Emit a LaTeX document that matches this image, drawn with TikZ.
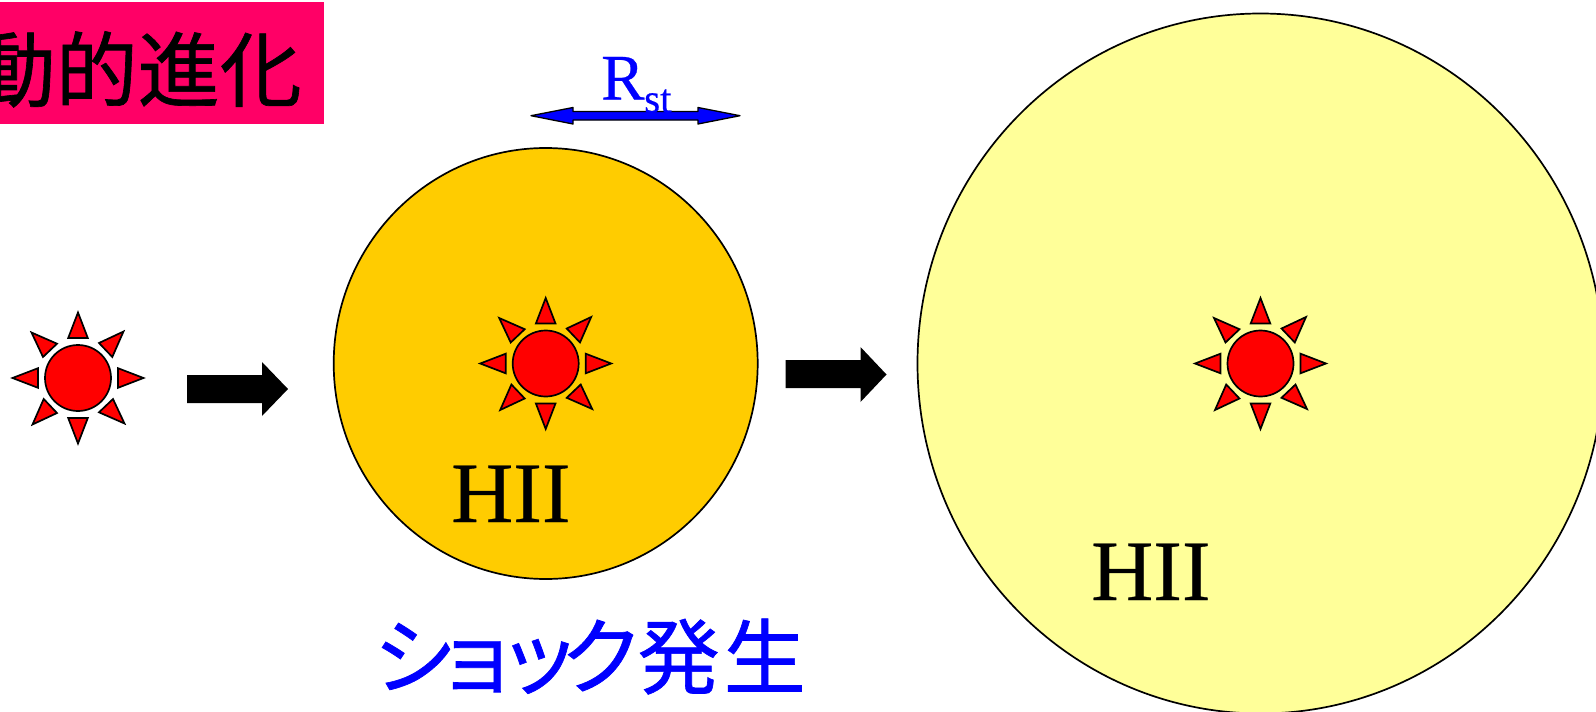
\documentclass[tikz,border=0pt]{standalone}
\usepackage{fontspec}
\setmainfont{Liberation Serif}
\newfontfamily\heavyserif[FakeBold=0.4]{Liberation Serif}
\newfontfamily\cjk[FakeBold=0.8]{Noto Sans CJK JP}
\definecolor{pinkbg}{HTML}{FF0066}
\definecolor{orangefill}{HTML}{FFCC00}
\definecolor{yellowfill}{HTML}{FFFF99}
\definecolor{sunred}{HTML}{FF0000}
\definecolor{textblue}{HTML}{0000FF}
\tikzset{
  outline/.style={draw=black,line width=1.7pt},
  ray/.style={outline,fill=sunred,line join=miter},
  blockarrow/.style={fill=black,draw=none},
  bigtext/.style={inner sep=0pt,font=\heavyserif\fontsize{86}{86}\selectfont,text=black,anchor=base west},
  sunpic/.pic={
    \filldraw[ray] (0,0) circle (33);
    \foreach \a in {0,90,180,270}{
      \filldraw[ray,rotate=\a] (0,-65.5) -- (9.8,-40) -- (-9.8,-40) -- cycle;
      \filldraw[ray,rotate=\a] (45.5,-46.5) -- (21,-35) -- (34.3,-21) -- cycle;
    }
  }
}
\begin{document}
\begin{tikzpicture}[x=1pt,y=-1pt]
\useasboundingbox (0,0) rectangle (1596,712);
\clip (0,0) rectangle (1596,712);
\fill[white] (0,0) rectangle (1596,712);
% title
\fill[pinkbg] (-2,2) rectangle (324,124);
\node[inner sep=0pt,anchor=base east,font=\cjk\fontsize{82}{82}\selectfont] (title) at (302,100.5) {動的進化};
% circles
\filldraw[outline,fill=orangefill] (545.7,363.5) ellipse [x radius=212,y radius=215.5];
\filldraw[outline,fill=yellowfill] (1260.5,363.5) ellipse [x radius=343,y radius=350];
% suns
\pic at (78,378) {sunpic};
\pic at (545.7,363.5) {sunpic};
\pic at (1260.5,363.5) {sunpic};
% block arrows
\fill[blockarrow] (187,375) -- (262,375) -- (262,362) -- (288,389) -- (262,416) -- (262,403) -- (187,403) -- cycle;
\fill[blockarrow] (785.5,360) -- (860.5,360) -- (860.5,347) -- (886.5,374.5) -- (860.5,402) -- (860.5,388) -- (785.5,388) -- cycle;
% Rst arrow
\filldraw[draw=black,line width=1.3pt,fill=textblue,line join=round] (531,115.7) -- (573,107.5) -- (573,111.5) -- (698,111.5) -- (698,107.5) -- (740,115.7) -- (698,124) -- (698,120) -- (573,120) -- (573,124) -- cycle;
\node[inner sep=0pt,anchor=base west,text=textblue,font=\heavyserif\fontsize{65}{65}\selectfont] (rst) at (601,99.5) {R};
\node[inner sep=0pt,anchor=base west,text=textblue,font=\heavyserif\fontsize{41}{41}\selectfont] (rstsub) at (644,112.5) {st};
% labels
\node[bigtext] (hiione) at (451,522) {HII};
\node[bigtext] (hiitwo) at (1091,600) {HII};
\node[inner sep=0pt,text=textblue,anchor=base west] (shock) at (373,687.5) {\cjk\fontsize{84}{84}\selectfont\addfontfeature{LetterSpace=-26}ショック\fontsize{82}{82}\selectfont\addfontfeature{LetterSpace=5}\hspace{-6pt}発生};
\end{tikzpicture}
\end{document}
